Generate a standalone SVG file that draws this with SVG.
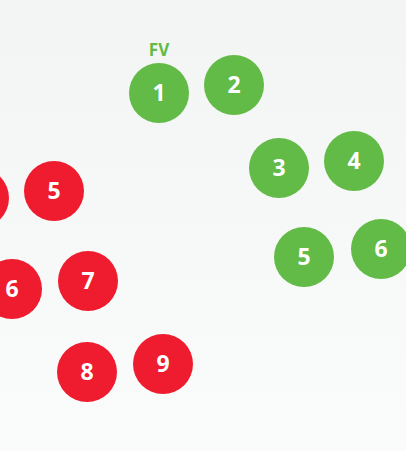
<svg xmlns="http://www.w3.org/2000/svg" width="406" height="451" viewBox="0 0 406 451">
<defs>
<linearGradient id="bg" x1="0" y1="0" x2="0" y2="1">
<stop offset="0" stop-color="#f3f4f4"/>
<stop offset="1" stop-color="#fafbfb"/>
</linearGradient>
</defs>
<style>
.g{fill:#62bb46}
.r{fill:#ee1c2e}
.t{fill:#ffffff;font-family:"Open Sans","Noto Sans",sans-serif;font-weight:700;font-size:23px;text-anchor:middle;dominant-baseline:central}
.lbl{fill:#62bb46;font-family:"Open Sans","Noto Sans",sans-serif;font-weight:700;font-size:17px;text-anchor:middle}
</style>
<rect width="406" height="451" fill="url(#bg)"/>
<g id="connectors"></g>
<text class="lbl" x="159" y="56">FV</text>
<g id="g1"><circle class="g" cx="159" cy="93" r="30"/><text class="t" x="159" y="92">1</text></g>
<g id="g2"><circle class="g" cx="234" cy="85" r="30"/><text class="t" x="234" y="84">2</text></g>
<g id="g3"><circle class="g" cx="279" cy="168" r="30"/><text class="t" x="279" y="167">3</text></g>
<g id="g4"><circle class="g" cx="354" cy="161" r="30"/><text class="t" x="354" y="160">4</text></g>
<g id="g5"><circle class="g" cx="304" cy="257" r="30"/><text class="t" x="304" y="256">5</text></g>
<g id="g6"><circle class="g" cx="381" cy="249" r="30"/><text class="t" x="381" y="248">6</text></g>
<g id="r4"><circle class="r" cx="-21" cy="198" r="30"/></g>
<g id="r5"><circle class="r" cx="54" cy="191" r="30"/><text class="t" x="54" y="190">5</text></g>
<g id="r6"><circle class="r" cx="12" cy="289" r="30"/><text class="t" x="12" y="288">6</text></g>
<g id="r7"><circle class="r" cx="88" cy="281" r="30"/><text class="t" x="88" y="280">7</text></g>
<g id="r8"><circle class="r" cx="87" cy="372" r="30"/><text class="t" x="87" y="371">8</text></g>
<g id="r9"><circle class="r" cx="163" cy="364" r="30"/><text class="t" x="163" y="363">9</text></g>
</svg>
